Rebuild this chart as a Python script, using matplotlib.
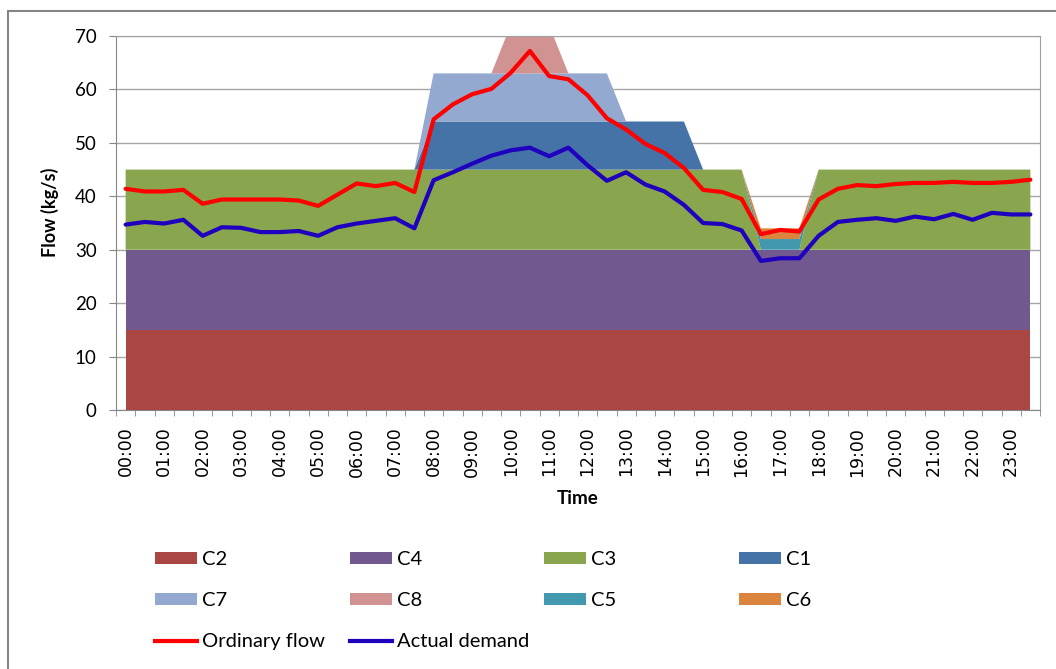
import numpy as np
import matplotlib.pyplot as plt
from matplotlib.patches import Rectangle, Patch
from matplotlib.lines import Line2D

# half-hourly slots 00:00 .. 23:30
times = ['%02d:%02d' % (h, m) for h in range(24) for m in (0, 30)]

c2 = [15, 15, 15, 15, 15, 15, 15, 15, 15, 15, 15, 15, 15, 15, 15, 15,
      15, 15, 15, 15, 15, 15, 15, 15, 15, 15, 15, 15, 15, 15, 15, 15,
      15, 15, 15, 15, 15, 15, 15, 15, 15, 15, 15, 15, 15, 15, 15, 15]
c4 = [15, 15, 15, 15, 15, 15, 15, 15, 15, 15, 15, 15, 15, 15, 15, 15,
      15, 15, 15, 15, 15, 15, 15, 15, 15, 15, 15, 15, 15, 15, 15, 15,
      15, 15, 15, 15, 15, 15, 15, 15, 15, 15, 15, 15, 15, 15, 15, 15]
c3 = [15, 15, 15, 15, 15, 15, 15, 15, 15, 15, 15, 15, 15, 15, 15, 15,
      15, 15, 15, 15, 15, 15, 15, 15, 15, 15, 15, 15, 15, 15, 15, 15,
      15, 0, 0, 0, 15, 15, 15, 15, 15, 15, 15, 15, 15, 15, 15, 15]
c1 = [0, 0, 0, 0, 0, 0, 0, 0, 0, 0, 0, 0, 0, 0, 0, 0,
      9, 9, 9, 9, 9, 9, 9, 9, 9, 9, 9, 9, 9, 9, 0, 0,
      0, 0, 0, 0, 0, 0, 0, 0, 0, 0, 0, 0, 0, 0, 0, 0]
c7 = [0, 0, 0, 0, 0, 0, 0, 0, 0, 0, 0, 0, 0, 0, 0, 0,
      9, 9, 9, 9, 9, 9, 9, 9, 9, 9, 0, 0, 0, 0, 0, 0,
      0, 0, 0, 0, 0, 0, 0, 0, 0, 0, 0, 0, 0, 0, 0, 0]
c8 = [0, 0, 0, 0, 0, 0, 0, 0, 0, 0, 0, 0, 0, 0, 0, 0,
      0, 0, 0, 0, 9, 9, 9, 0, 0, 0, 0, 0, 0, 0, 0, 0,
      0, 0, 0, 0, 0, 0, 0, 0, 0, 0, 0, 0, 0, 0, 0, 0]
c5 = [0, 0, 0, 0, 0, 0, 0, 0, 0, 0, 0, 0, 0, 0, 0, 0,
      0, 0, 0, 0, 0, 0, 0, 0, 0, 0, 0, 0, 0, 0, 0, 0,
      0, 2, 2, 2, 0, 0, 0, 0, 0, 0, 0, 0, 0, 0, 0, 0]
c6 = [0, 0, 0, 0, 0, 0, 0, 0, 0, 0, 0, 0, 0, 0, 0, 0,
      0, 0, 0, 0, 0, 0, 0, 0, 0, 0, 0, 0, 0, 0, 0, 0,
      0, 2, 2, 2, 0, 0, 0, 0, 0, 0, 0, 0, 0, 0, 0, 0]

ordinary = [41.4, 40.9, 40.9, 41.2, 38.6, 39.4, 39.4, 39.4, 39.4, 39.2, 38.2, 40.3,
            42.4, 41.9, 42.5, 40.8, 54.4, 57.2, 59.1, 60.1, 63.1, 67.2, 62.5, 61.9,
            58.9, 54.6, 52.5, 49.8, 48.1, 45.3, 41.2, 40.8, 39.5, 32.9, 33.7, 33.4,
            39.4, 41.4, 42.1, 41.9, 42.3, 42.5, 42.5, 42.7, 42.5, 42.5, 42.7, 43.1]
actual = [34.7, 35.2, 34.9, 35.6, 32.6, 34.2, 34.1, 33.3, 33.3, 33.5, 32.6, 34.2,
          34.9, 35.4, 35.9, 34.0, 43.0, 44.5, 46.1, 47.6, 48.6, 49.1, 47.5, 49.1,
          45.8, 42.9, 44.5, 42.2, 40.9, 38.4, 35.0, 34.8, 33.6, 27.9, 28.4, 28.4,
          32.6, 35.2, 35.6, 35.9, 35.4, 36.2, 35.7, 36.7, 35.6, 36.9, 36.6, 36.6]

names = ['C2', 'C4', 'C3', 'C1', 'C7', 'C8', 'C5', 'C6']
colors = ['#AA4644', '#71588F', '#89A54E', '#4572A7',
          '#93A9CF', '#D19392', '#4198AF', '#DB843D']
red = '#FF0000'
blue = '#1E00BE'

plt.rcParams['font.family'] = ['Lato', 'DejaVu Sans']

W, H = 1056, 669
fig = plt.figure(figsize=(W / 100, H / 100), dpi=100)
ax = fig.add_axes([116 / W, 1 - 410 / H, 924 / W, 374 / H])

x = np.arange(len(times))
ax.stackplot(x, c2, c4, c3, c1, c7, c8, c5, c6, colors=colors, linewidth=0)
ax.plot(x, ordinary, color=red, lw=3, solid_joinstyle='round', solid_capstyle='round')
ax.plot(x, actual, color=blue, lw=3, solid_joinstyle='round', solid_capstyle='round')

ax.set_xlim(-0.5, len(times) - 0.5)
ax.set_ylim(0, 70)
ax.set_yticks(range(0, 71, 10))
ax.yaxis.grid(True, color='#A6A6A6', lw=1)
ax.set_axisbelow(True)

ax.set_xticks(x[::2])
ax.set_xticklabels(times[::2], rotation=90, family='DejaVu Sans', fontsize=12.5)
ax.set_xticks(np.arange(-0.5, len(times)), minor=True)
ax.tick_params(axis='x', which='major', length=0, pad=12)
ax.tick_params(axis='x', which='minor', length=4, color='#868686', direction='out')
ax.tick_params(axis='y', length=5, color='#868686', pad=9, labelsize=13.5)
for s in ax.spines.values():
    s.set_color('#A0A0A0')
ax.spines['left'].set_color('#868686')
ax.spines['bottom'].set_color('#868686')

fig.text(50 / W, 1 - 212 / H, 'Flow (kg/s)', rotation=90, ha='center', va='center',
         fontsize=13, fontweight='bold')
fig.text(578 / W, 1 - 498 / H, 'Time', ha='center', va='center',
         fontsize=13.5, fontweight='bold')

# legend laid out as 4 fixed-width columns like the original
cols = [[0, 4], [1, 5], [2, 6], [3, 7]]
for k, idx in enumerate(cols):
    handles = [Patch(facecolor=colors[i], label=names[i]) for i in idx]
    if k == 0:
        handles.append(Line2D([], [], color=red, lw=3, label='Ordinary flow'))
    if k == 1:
        handles.append(Line2D([], [], color=blue, lw=3, label='Actual demand'))
    fig.legend(handles=handles, loc='upper left',
               bbox_to_anchor=((155 + 194.5 * k) / W, 1 - 551 / H),
               frameon=False, fontsize=14.5, borderpad=0, borderaxespad=0,
               handlelength=2.1, handleheight=0.6, handletextpad=0.25,
               labelspacing=1.2)

fig.patches.append(Rectangle((7.5 / W, -0.1), 1.2, 1 - 11.5 / H + 0.1,
                             transform=fig.transFigure, fill=False,
                             edgecolor='#858585', lw=1.5))

fig.savefig('out.png', dpi=100)
